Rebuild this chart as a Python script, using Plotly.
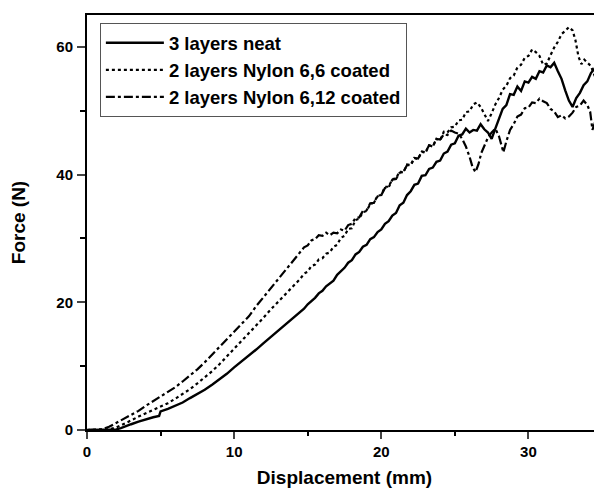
import plotly.graph_objects as go

# 3 layers neat
neat_x = [0, 0.5, 1.0, 1.5, 2.0, 2.3, 2.6, 3.0, 3.5, 4.0, 4.5, 4.9, 5.0, 5.5, 6.0, 6.5, 7.0, 7.5, 8.0, 8.5,
          9.0, 9.5, 10.0, 10.5, 11.0, 11.5, 12.0, 12.5, 13.0, 13.5, 14.0,
          14.5, 14.75, 15.0, 15.25, 15.5, 15.75, 16.0, 16.25, 16.5, 16.75, 17.0, 17.25, 17.5, 17.75,
          18.0, 18.25, 18.5, 18.75, 19.0, 19.25, 19.5, 19.75, 20.0, 20.25, 20.5, 20.75, 21.0, 21.25,
          21.5, 21.75, 22.0, 22.25, 22.5, 22.75, 23.0, 23.25, 23.5, 23.75, 24.0, 24.25, 24.5, 24.75,
          25.0, 25.25, 25.5, 25.75, 26.0, 26.25, 26.5, 26.75, 27.0, 27.25, 27.5, 27.75, 28.0, 28.25,
          28.5, 28.75, 29.0, 29.25, 29.5, 29.75, 30.0, 30.25, 30.5, 30.75, 31.0, 31.25, 31.5, 31.75,
          32.0, 32.25, 32.5, 32.75, 33.0, 33.25, 33.5, 33.75, 34.0, 34.25, 34.5, 34.75, 35.0]
neat_y = [0, 0.05, 0.0, 0.1, 0.1, 0.3, 0.6, 0.9, 1.3, 1.7, 2.0, 2.2, 2.9, 3.3, 3.8, 4.3, 5.0, 5.6, 6.3, 7.1,
          7.9, 8.8, 9.8, 10.7, 11.6, 12.6, 13.6, 14.6, 15.6, 16.6, 17.6,
          18.6, 19.0, 19.7, 20.2, 20.7, 21.4, 21.8, 22.5, 23.0, 23.4, 24.3, 24.8, 25.4, 26.2,
          26.6, 27.5, 27.9, 28.7, 29.0, 29.9, 30.2, 31.0, 31.4, 32.3, 32.7, 33.6, 34.0, 35.2,
          35.6, 36.8, 37.4, 38.4, 38.6, 39.8, 39.9, 40.9, 41.1, 42.0, 42.2, 43.3, 43.6, 44.7,
          44.9, 46.1, 46.3, 47.2, 46.6, 47.0, 46.9, 47.9, 47.1, 46.6, 45.6, 47.2, 48.6, 50.3,
          50.9, 52.6, 52.5, 53.8, 53.1, 54.6, 54.4, 55.3, 55.0, 56.2, 56.0, 57.1, 56.8, 57.5,
          56.2, 55.0, 53.2, 51.6, 50.6, 52.0, 52.8, 54.0, 54.6, 55.9, 56.6, 57.9, 57.2]

# 2 layers Nylon 6,6 coated
n66_x = [0, 0.5, 1.0, 1.5, 2.0, 2.5, 3.0, 3.5, 4.0, 4.5, 5.0, 5.5, 6.0, 6.5, 7.0, 7.5, 8.0, 8.5, 9.0, 9.5,
         10.0, 10.5, 11.0, 11.5, 12.0, 12.5, 13.0, 13.5, 14.0,
         14.5, 14.75, 15.0, 15.25, 15.5, 15.75, 16.0, 16.25, 16.5, 16.75, 17.0, 17.25, 17.5, 17.75,
         18.0, 18.25, 18.5, 18.75, 19.0, 19.25, 19.5, 19.75, 20.0, 20.25, 20.5, 20.75, 21.0, 21.25,
         21.5, 21.75, 22.0, 22.25, 22.5, 22.75, 23.0, 23.25, 23.5, 23.75, 24.0, 24.25, 24.5, 24.75,
         25.0, 25.25, 25.5, 25.75, 26.0, 26.25, 26.5, 26.75, 27.0, 27.25, 27.5, 27.75, 28.0, 28.25,
         28.5, 28.75, 29.0, 29.25, 29.5, 29.75, 30.0, 30.25, 30.5, 30.75, 31.0, 31.25, 31.5, 31.75,
         32.0, 32.25, 32.5, 32.75, 33.0, 33.2, 33.4, 33.6, 33.8, 34.0, 34.25, 34.5, 34.75, 34.9, 35.0]
n66_y = [0, 0, 0.05, 0.1, 0.4, 0.9, 1.5, 2.1, 2.6, 3.1, 3.6, 4.2, 4.9, 5.6, 6.4, 7.3, 8.2, 9.2, 10.3, 11.5,
         12.8, 14.0, 15.2, 16.4, 17.6, 18.9, 20.1, 21.3, 22.5,
         23.7, 24.5, 24.8, 25.7, 25.9, 26.7, 26.9, 27.6, 27.8, 28.7, 29.0, 30.1, 30.4, 31.5,
         31.6, 32.9, 33.1, 34.1, 34.3, 35.4, 35.6, 36.7, 36.8, 38.1, 38.1, 39.3, 39.4, 40.5,
         40.3, 41.6, 41.5, 42.6, 42.4, 43.6, 43.4, 44.6, 44.4, 45.6, 45.4, 46.7, 46.6, 47.4,
         47.5, 48.5, 48.6, 49.8, 49.9, 51.0, 51.3, 50.6, 49.5, 48.4, 49.6, 51.0, 52.0, 53.3,
         53.9, 55.1, 55.5, 56.8, 57.2, 58.3, 58.6, 59.6, 59.2, 58.6, 57.2, 57.4, 58.7, 59.9,
         60.8, 62.0, 62.5, 63.1, 62.6, 61.0, 58.5, 57.3, 58.0, 57.5, 57.0, 55.5, 54.6, 52.0, 51.0]

# 2 layers Nylon 6,12 coated
n612_x = [0, 0.5, 1.0, 1.5, 2.0, 2.5, 3.0, 3.5, 4.0, 4.5, 5.0, 5.5, 6.0, 6.5, 7.0, 7.5, 8.0, 8.5, 9.0, 9.5,
          10.0, 10.5, 11.0, 11.5, 12.0, 12.5, 13.0, 13.5, 14.0,
          14.5, 14.75, 15.0, 15.25, 15.5, 15.75, 16.0, 16.25, 16.5, 16.75, 17.0, 17.25, 17.5, 17.75,
          18.0, 18.25, 18.5, 18.75, 19.0, 19.25, 19.5, 19.75, 20.0, 20.25, 20.5, 20.75, 21.0, 21.25,
          21.5, 21.75, 22.0, 22.25, 22.5, 22.75, 23.0, 23.25, 23.5, 23.75, 24.0, 24.25, 24.5, 24.75,
          25.0, 25.25, 25.5, 25.75, 26.0, 26.2, 26.4, 26.6, 26.8, 27.0, 27.25, 27.5, 27.75, 28.0,
          28.15, 28.3, 28.5, 28.75, 29.0, 29.25, 29.5, 29.75, 30.0, 30.25, 30.5, 30.75, 31.0, 31.25,
          31.5, 31.75, 32.0, 32.25, 32.5, 32.75, 33.0, 33.25, 33.5, 33.75, 34.0, 34.2, 34.35, 34.5,
          34.7, 34.85, 35.0]
n612_y = [0, 0, 0.1, 0.5, 1.1, 1.8, 2.4, 3.0, 3.8, 4.5, 5.2, 5.9, 6.7, 7.6, 8.5, 9.5, 10.6, 11.8, 13.0, 14.2,
          15.3, 16.5, 17.8, 19.4, 20.8, 22.2, 23.6, 25.0, 26.5,
          27.8, 28.6, 28.9, 29.7, 29.9, 30.5, 30.4, 30.9, 30.5, 30.9, 30.8, 31.4, 31.2, 32.1,
          32.3, 33.2, 33.3, 34.3, 34.4, 35.5, 35.6, 36.6, 36.8, 37.9, 38.0, 39.2, 39.3, 40.3,
          40.4, 41.5, 41.5, 42.6, 42.5, 43.6, 43.5, 44.6, 44.4, 45.6, 45.5, 46.3, 46.2, 46.9,
          46.6, 46.4, 45.6, 44.4, 42.8, 41.2, 40.4, 41.6, 43.4, 44.4, 45.8, 46.6, 47.2, 46.0,
          44.6, 43.5, 45.2, 47.0, 47.9, 49.1, 49.4, 50.4, 50.5, 51.3, 51.2, 51.9, 51.5, 51.2,
          50.3, 49.9, 49.0, 49.3, 48.8, 49.1, 49.7, 50.6, 50.8, 51.6, 50.9, 49.8, 47.0, 48.0,
          49.8, 50.2, 49.4]

series_names = ["3 layers neat", "2 layers Nylon 6,6 coated", "2 layers Nylon 6,12 coated"]
x_ticks = [0, 10, 20, 30]
y_ticks = [0, 20, 40, 60]

FONT = "Liberation Sans, Arial, sans-serif"

fig = go.Figure()
fig.add_trace(go.Scatter(x=neat_x, y=neat_y, mode="lines", name=series_names[0],
                         line=dict(color="black", width=2.4, dash="solid")))
fig.add_trace(go.Scatter(x=n66_x, y=n66_y, mode="lines", name=series_names[1],
                         line=dict(color="black", width=2.2, dash="dot")))
fig.add_trace(go.Scatter(x=n612_x, y=n612_y, mode="lines", name=series_names[2],
                         line=dict(color="black", width=2.2, dash="dashdot")))

fig.update_layout(
    width=602, height=492,
    margin=dict(l=79, r=8, t=5, b=70),
    paper_bgcolor="white", plot_bgcolor="white",
    font=dict(family=FONT, color="black", weight="bold"),
    showlegend=True,
    legend=dict(x=0.025, y=0.98, xanchor="left", yanchor="top",
                bordercolor="#555555", borderwidth=1, bgcolor="white",
                font=dict(family=FONT, size=18.5, color="black", weight="bold"),
                itemwidth=58, tracegroupgap=0),
    xaxis=dict(range=[0, 35], tickvals=x_ticks, ticks="outside", ticklen=7, tickwidth=2,
               showline=True, linewidth=2, linecolor="black", mirror=True,
               showgrid=False, zeroline=False,
               minor=dict(tickvals=[5, 15, 25], ticks="outside", ticklen=4, tickwidth=2, tickcolor="black"),
               tickfont=dict(family=FONT, size=15, color="black", weight="bold"),
               title=dict(text="Displacement (mm)", standoff=12,
                          font=dict(family=FONT, size=19, color="black", weight="bold"))),
    yaxis=dict(range=[0, 65], tickvals=y_ticks, ticks="outside", ticklen=8, tickwidth=2,
               showline=True, linewidth=2, linecolor="black", mirror=False,
               showgrid=False, zeroline=False, ticklabelstandoff=1,
               minor=dict(tickvals=[10, 30, 50], ticks="outside", ticklen=5, tickwidth=2, tickcolor="black"),
               tickfont=dict(family=FONT, size=15, color="black", weight="bold"),
               title=dict(text="Force (N)", standoff=28,
                          font=dict(family=FONT, size=19, color="black", weight="bold"))),
)

fig.write_html("out.html")
